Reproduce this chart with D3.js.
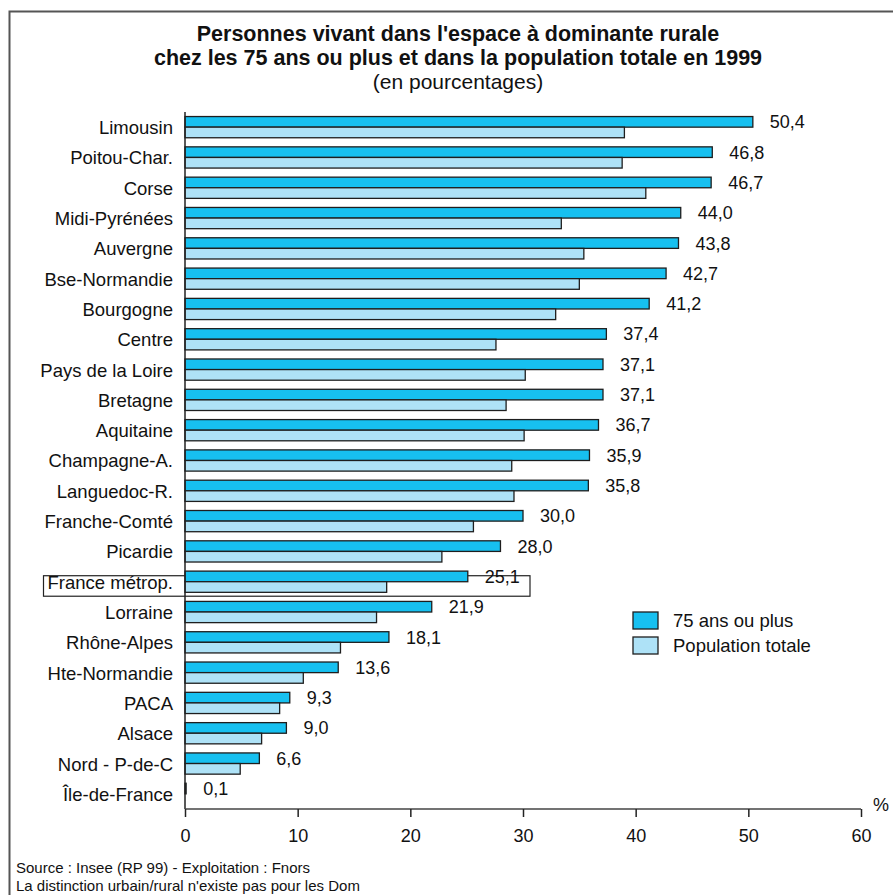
<!DOCTYPE html>
<html>
<head>
<meta charset="utf-8">
<script src="https://cdn.jsdelivr.net/npm/d3@7"></script>
<style>
  html, body { margin: 0; padding: 0; background: #fff; }
  svg { display: block; font-family: "Liberation Sans", Arial, sans-serif; }
</style>
</head>
<body>
<script>
// Régions, triées par part des 75 ans ou plus vivant en espace rural
const regions = [
  "Limousin", "Poitou-Char.", "Corse", "Midi-Pyrénées", "Auvergne",
  "Bse-Normandie", "Bourgogne", "Centre", "Pays de la Loire", "Bretagne",
  "Aquitaine", "Champagne-A.", "Languedoc-R.", "Franche-Comté", "Picardie",
  "France métrop.", "Lorraine", "Rhône-Alpes", "Hte-Normandie", "PACA",
  "Alsace", "Nord - P-de-C", "Île-de-France"
];
// 75 ans ou plus (%)
const senior = [
  50.4, 46.8, 46.7, 44.0, 43.8, 42.7, 41.2, 37.4, 37.1, 37.1,
  36.7, 35.9, 35.8, 30.0, 28.0, 25.1, 21.9, 18.1, 13.6, 9.3,
  9.0, 6.6, 0.1
];
// Population totale (%)
const total = [
  39.0, 38.8, 40.9, 33.4, 35.4, 35.0, 32.9, 27.6, 30.2, 28.5,
  30.1, 29.0, 29.2, 25.6, 22.8, 17.9, 17.0, 13.8, 10.5, 8.4,
  6.8, 4.9, 0.0
];
const xTicks = [0, 10, 20, 30, 40, 50, 60];
const seriesNames = ["75 ans ou plus", "Population totale"];
const highlighted = "France métrop.";

const W = 893, H = 895;
const colDark = "#17c0f0", colLight = "#aee2f7", stroke = "#1e1e1e";
const fs = 18.5;

const svg = d3.select("body").append("svg").attr("width", W).attr("height", H);

// Cadre
svg.append("rect")
  .attr("x", 9.5).attr("y", 11.5).attr("width", 920).attr("height", 920)
  .attr("fill", "none").attr("stroke", "#555").attr("stroke-width", 2);

// Titre
const title = svg.append("text").attr("text-anchor", "middle").attr("fill", "#111");
title.append("tspan").attr("x", 458).attr("y", 41)
  .attr("font-weight", "bold").attr("font-size", 21.5)
  .text("Personnes vivant dans l'espace à dominante rurale");
title.append("tspan").attr("x", 458).attr("y", 65)
  .attr("font-weight", "bold").attr("font-size", 21.5)
  .text("chez les 75 ans ou plus et dans la population totale en 1999");
title.append("tspan").attr("x", 458).attr("y", 89)
  .attr("font-size", 21)
  .text("(en pourcentages)");

const x = d3.scaleLinear().domain([0, 60]).range([185, 861]);
const y = d3.scaleBand().domain(regions).range([112, 809])
  .paddingInner(0.3).paddingOuter(0.15);
const half = y.bandwidth() / 2;

// Encadré autour de la ligne France métropolitaine
svg.append("rect")
  .attr("x", 43.5)
  .attr("y", y(highlighted) + half - 6)
  .attr("width", 486.5)
  .attr("height", 20.5)
  .attr("fill", "none").attr("stroke", "#222").attr("stroke-width", 1.2);

const rows = svg.append("g").selectAll("g").data(regions).join("g")
  .attr("transform", d => `translate(0,${y(d)})`);

// Barres 75 ans ou plus
rows.append("rect")
  .attr("x", x(0)).attr("y", 0)
  .attr("width", (d, i) => x(senior[i]) - x(0))
  .attr("height", half)
  .attr("fill", colDark).attr("stroke", stroke).attr("stroke-width", 1.3);

// Barres population totale
rows.append("rect")
  .attr("x", x(0)).attr("y", half)
  .attr("width", (d, i) => x(total[i]) - x(0))
  .attr("height", half)
  .attr("fill", colLight).attr("stroke", stroke).attr("stroke-width", 1.3);

// Valeurs
rows.append("text")
  .attr("x", (d, i) => x(senior[i]) + 17)
  .attr("y", half / 2 + 6.5)
  .attr("font-size", 18).attr("fill", "#111")
  .text((d, i) => d3.format(".1f")(senior[i]).replace(".", ","));

// Libellés des régions
rows.append("text")
  .attr("x", 173).attr("y", half + 7)
  .attr("text-anchor", "end")
  .attr("font-size", fs).attr("fill", "#111")
  .text(d => d);

// Axe vertical
svg.append("line")
  .attr("x1", x(0)).attr("x2", x(0)).attr("y1", 112).attr("y2", 809)
  .attr("stroke", "#222").attr("stroke-width", 1.5);

// Axe horizontal
const xAxis = svg.append("g").attr("transform", "translate(0,809)")
  .call(d3.axisBottom(x).tickValues(xTicks).tickSize(8).tickPadding(12));
xAxis.select(".domain").attr("stroke", "#444").attr("stroke-width", 1.5)
  .attr("d", `M${x(0)},0H${x(60)}`);
xAxis.selectAll(".tick line").attr("stroke", "#222").attr("stroke-width", 1.5);
xAxis.selectAll(".tick text").attr("font-size", 18).attr("fill", "#111")
  .attr("font-family", "'Liberation Sans', Arial, sans-serif");

svg.append("text").attr("x", 873).attr("y", 811)
  .attr("font-size", 18).attr("fill", "#111").text("%");

// Légende
const legend = svg.append("g").attr("transform", "translate(633,612)");
seriesNames.forEach((name, i) => {
  legend.append("rect")
    .attr("x", 0).attr("y", i * 25)
    .attr("width", 25).attr("height", 17)
    .attr("fill", i === 0 ? colDark : colLight)
    .attr("stroke", stroke).attr("stroke-width", 1.3);
  legend.append("text")
    .attr("x", 40).attr("y", i * 25 + 15)
    .attr("font-size", fs).attr("fill", "#111").text(name);
});

// Sources
svg.append("text").attr("x", 16).attr("y", 873)
  .attr("font-size", 15).attr("fill", "#111")
  .text("Source : Insee (RP 99) - Exploitation : Fnors");
svg.append("text").attr("x", 16).attr("y", 891)
  .attr("font-size", 15).attr("fill", "#111")
  .text("La distinction urbain/rural n'existe pas pour les Dom");
</script>
</body>
</html>
